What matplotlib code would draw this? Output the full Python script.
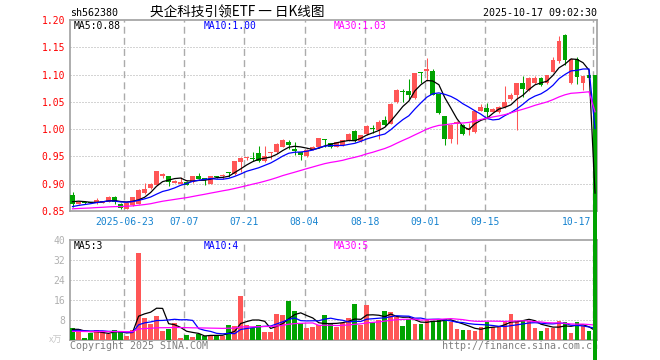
import matplotlib.pyplot as plt
import numpy as np
import pandas as pd

# daily K-line data, 2025-06-10 .. 2025-10-17 (last bar is the pre-open tick)
pre_close = [0.848, 0.850, 0.851, 0.849, 0.852, 0.854, 0.853, 0.851, 0.850, 0.852,
             0.855, 0.854, 0.853, 0.852, 0.851, 0.853, 0.855, 0.853, 0.852, 0.851,
             0.846, 0.848, 0.849, 0.851, 0.852, 0.862, 0.868, 0.871, 0.871]
opens = [0.880, 0.863, 0.867, 0.866, 0.864, 0.865, 0.867, 0.876, 0.863, 0.854,
         0.861, 0.863, 0.883, 0.892, 0.898, 0.915, 0.914, 0.902, 0.900, 0.904,
         0.903, 0.914, 0.910, 0.900, 0.914, 0.915, 0.920, 0.917, 0.939, 0.947,
         0.947, 0.956, 0.941, 0.956, 0.958, 0.968, 0.977, 0.963, 0.958, 0.950,
         0.962, 0.967, 0.982, 0.974, 0.968, 0.971, 0.979, 0.997, 0.979, 0.991,
         1.001, 0.999, 1.017, 1.010, 1.049, 1.069, 1.069, 1.057, 1.103, 1.107,
         1.107, 1.064, 1.024, 0.982, 1.010, 1.008, 0.999, 0.994, 1.034, 1.038,
         1.032, 1.032, 1.040, 1.055, 1.063, 1.084, 1.071, 1.084, 1.093, 1.084,
         1.105, 1.124, 1.173, 1.085, 1.128, 1.085, 1.099, 1.099]
highs = [0.884, 0.868, 0.868, 0.867, 0.873, 0.869, 0.877, 0.877, 0.864, 0.866,
         0.876, 0.891, 0.901, 0.902, 0.924, 0.920, 0.915, 0.906, 0.912, 0.905,
         0.915, 0.920, 0.911, 0.915, 0.915, 0.917, 0.922, 0.942, 0.949, 0.949,
         0.958, 0.969, 0.969, 0.959, 0.974, 0.982, 0.981, 0.977, 0.959, 0.963,
         0.969, 0.984, 0.982, 0.975, 0.977, 0.981, 0.993, 0.998, 0.990, 1.008,
         1.008, 1.017, 1.024, 1.047, 1.073, 1.073, 1.091, 1.102, 1.104, 1.131,
         1.110, 1.065, 1.025, 1.009, 1.015, 1.009, 1.011, 1.035, 1.046, 1.047,
         1.038, 1.043, 1.079, 1.066, 1.085, 1.097, 1.095, 1.098, 1.096, 1.100,
         1.132, 1.171, 1.174, 1.130, 1.133, 1.098, 1.105, 1.100]
lows = [0.858, 0.862, 0.862, 0.864, 0.863, 0.864, 0.866, 0.862, 0.854, 0.854,
        0.859, 0.862, 0.882, 0.891, 0.898, 0.910, 0.896, 0.901, 0.899, 0.897,
        0.902, 0.908, 0.897, 0.899, 0.910, 0.909, 0.912, 0.916, 0.922, 0.944,
        0.941, 0.939, 0.939, 0.945, 0.957, 0.967, 0.963, 0.953, 0.944, 0.949,
        0.961, 0.966, 0.968, 0.965, 0.967, 0.970, 0.978, 0.977, 0.977, 0.990,
        0.993, 0.982, 1.006, 1.009, 1.047, 1.049, 1.056, 1.056, 1.085, 1.088,
        1.062, 1.027, 0.971, 0.974, 0.973, 0.989, 0.989, 0.993, 1.033, 1.023,
        1.031, 1.030, 1.039, 1.054, 0.999, 1.058, 1.070, 1.082, 1.079, 1.083,
        1.104, 1.121, 1.118, 1.083, 1.082, 1.072, 1.092, 0.000]
closes = [0.863, 0.867, 0.864, 0.865, 0.870, 0.868, 0.876, 0.867, 0.856, 0.865,
          0.875, 0.889, 0.891, 0.899, 0.923, 0.917, 0.903, 0.905, 0.904, 0.898,
          0.914, 0.909, 0.907, 0.914, 0.912, 0.916, 0.919, 0.941, 0.948, 0.948,
          0.946, 0.941, 0.951, 0.958, 0.973, 0.981, 0.971, 0.960, 0.952, 0.962,
          0.968, 0.983, 0.981, 0.967, 0.976, 0.980, 0.992, 0.979, 0.989, 1.006,
          1.000, 1.014, 1.008, 1.046, 1.072, 1.068, 1.063, 1.102, 1.102, 1.111,
          1.063, 1.029, 0.982, 1.008, 1.014, 0.991, 1.002, 1.034, 1.040, 1.032,
          1.037, 1.041, 1.050, 1.063, 1.084, 1.073, 1.093, 1.093, 1.081, 1.099,
          1.127, 1.162, 1.127, 1.128, 1.095, 1.097, 1.094, 0.000]

# volume in 10k shares
pre_vol = [3.5, 3.0, 4.0, 2.8, 3.2, 3.6, 3.1, 2.9, 3.8, 3.4,
           3.0, 3.3, 3.7, 2.6, 3.5, 3.2, 3.9, 3.1, 2.7, 3.4,
           3.0, 2.9, 3.6, 3.2, 3.3, 4.5, 4.0, 4.2, 4.1]
volume = [4.7, 4.3, 0.9, 2.8, 4.0, 3.1, 2.4, 4.0, 3.1, 1.6,
          4.0, 34.9, 8.7, 6.4, 9.6, 3.6, 4.3, 6.7, 0.9, 2.0,
          1.3, 2.3, 1.6, 2.0, 2.0, 1.6, 6.0, 5.7, 17.6, 6.0,
          4.7, 6.0, 3.1, 3.3, 10.3, 10.1, 15.6, 11.6, 6.7, 4.9,
          5.3, 6.0, 10.0, 6.7, 5.3, 6.7, 8.9, 14.4, 6.0, 14.0,
          7.1, 8.0, 11.6, 11.2, 9.1, 5.6, 8.3, 6.4, 6.4, 8.6,
          7.8, 8.3, 8.3, 7.3, 4.4, 4.0, 4.0, 3.7, 5.3, 7.3,
          5.3, 5.1, 7.6, 10.6, 7.8, 7.6, 7.8, 4.8, 3.6, 4.8,
          4.8, 7.8, 7.1, 2.9, 7.1, 5.6, 3.6, 0.0]

tick_idx = [9, 19, 29, 39, 49, 59, 69, 87]
tick_lbl = ['2025-06-23', '07-07', '07-21', '08-04', '08-18', '09-01', '09-15', '10-17']
price_ticks = [0.85, 0.90, 0.95, 1.00, 1.05, 1.10, 1.15, 1.20]
vol_ticks = [8, 16, 24, 32, 40]

RED = '#ff5656'
GREEN = '#00a300'
GRID = '#ababab'
MA_COLORS = {5: 'black', 10: '#0000ff', 30: '#ff00ff'}
MONO = 'DejaVu Sans Mono'


def moving_avg(pre, vals, n):
    s = pd.Series(list(pre) + list(vals))
    return s.rolling(n).mean().iloc[len(pre):].to_numpy()


W, H = 660, 360
fig = plt.figure(figsize=(W / 100, H / 100), dpi=100)


def px(x, y):
    return x / W, 1 - y / H


ax = fig.add_axes([70 / W, 1 - 211 / H, 527 / W, 191 / H])
axv = fig.add_axes([70 / W, 20 / H, 527 / W, 100 / H])
ax.set_zorder(2)
axv.set_zorder(1)

n = len(closes)
idx = np.arange(n)
up = np.array(closes) >= np.array(opens)
colors = [RED if u else GREEN for u in up]

# candles
ax.vlines(idx, lows, highs, colors=colors, linewidth=0.75, zorder=3)
o = np.array(opens)
c = np.array(closes)
body_bot = np.minimum(o, c)
body_h = np.maximum(np.abs(c - o), 0.0018)
bars = ax.bar(idx, body_h, bottom=body_bot, width=0.82, color=colors,
              linewidth=0, zorder=4)
bars.patches[-1].set_clip_on(False)

for k in (5, 10, 30):
    ax.plot(idx, moving_avg(pre_close, closes, k), color=MA_COLORS[k],
            linewidth=0.9, zorder=5)

# volume bars
axv.bar(idx, volume, width=0.78, color=colors, linewidth=0, zorder=3)
for k in (5, 10, 30):
    axv.plot(idx, moving_avg(pre_vol, volume, k), color=MA_COLORS[k],
             linewidth=0.9, zorder=4)

for a, ylim in ((ax, (0.85, 1.20)), (axv, (0, 40))):
    a.set_xlim(-0.42, 87.33)
    a.set_ylim(*ylim)
    a.set_xticks([])
    for sp in a.spines.values():
        sp.set_color('#a0a0a0')
        sp.set_linewidth(1.2)
    for t in tick_idx:
        a.axvline(t - 0.37, color=GRID, linewidth=1.0,
                  linestyle=(0, (5, 3)), zorder=1)

for p in price_ticks[1:-1]:
    ax.axhline(p, color=GRID, linewidth=0.72, linestyle=(0, (1, 2)), zorder=1)
for v in vol_ticks[:-1]:
    axv.axhline(v, color=GRID, linewidth=0.72, linestyle=(0, (1, 2)), zorder=1)

ax.set_yticks(price_ticks)
ax.set_yticklabels(['%.2f' % p for p in price_ticks], fontfamily=MONO,
                   fontsize=7, color='red')
ax.tick_params(axis='y', length=0, pad=3.6)
axv.set_yticks(vol_ticks)
axv.set_yticklabels([str(v) for v in vol_ticks], fontfamily=MONO,
                    fontsize=7, color='#b0b0b0')
axv.tick_params(axis='y', length=0, pad=3.2)

# date labels under the price panel
for t, lbl in zip(tick_idx, tick_lbl):
    ha = 'right' if t == tick_idx[-1] else 'center'
    xx = t - 0.55 if ha == 'right' else t - 0.37
    ax.text(xx, -0.058, lbl, transform=ax.get_xaxis_transform(), ha=ha,
            va='center', fontfamily=MONO, fontsize=7, color='#1683d0',
            clip_on=False)

# moving average captions
ma_p = {k: moving_avg(pre_close, closes, k)[-1] for k in (5, 10, 30)}
ma_v = {k: moving_avg(pre_vol, volume, k)[-1] for k in (5, 10, 30)}
for k, x0 in ((5, 74), (10, 204), (30, 334)):
    fig.text(*px(x0, 26), 'MA%d:%.2f' % (k, ma_p[k]), ha='left', va='center',
             fontfamily=MONO, fontsize=7, color=MA_COLORS[k], zorder=6)
    fig.text(*px(x0, 246), 'MA%d:%d' % (k, int(ma_v[k])), ha='left', va='center',
             fontfamily=MONO, fontsize=7, color=MA_COLORS[k], zorder=6)

# header
fig.text(*px(70, 13), 'sh562380', ha='left', va='center', fontfamily=MONO,
         fontsize=7.2, color='black')
fig.text(*px(150, 13), '央企科技引领ETF 一 日K线图', ha='left', va='center',
         family=['Noto Sans CJK SC', 'DejaVu Sans'], fontsize=9.8, color='black')
fig.text(*px(597, 13), '2025-10-17 09:02:30', ha='right', va='center',
         fontfamily=MONO, fontsize=7.2, color='black')

# footer, unit, watermark
fig.text(*px(70, 346), 'Copyright 2025 SINA.COM', ha='left', va='center',
         fontfamily=MONO, fontsize=7.2, color='#808080', zorder=1.5)
fig.text(*px(442, 346), 'http://finance.sina.com.cn', ha='left', va='center',
         fontfamily=MONO, fontsize=7.2, color='#808080', zorder=1.5)
fig.text(*px(56, 340), 'x万', ha='center', va='center',
         family=['Noto Sans CJK SC', 'DejaVu Sans'], fontsize=6.5,
         color='#c8c8c8', zorder=1.5)
fig.text(*px(579, 196), 'sina', ha='center', va='center', fontsize=11,
         style='italic', weight='bold', color='#e2caca', zorder=1.5)

fig.savefig('out.png', dpi=100)
